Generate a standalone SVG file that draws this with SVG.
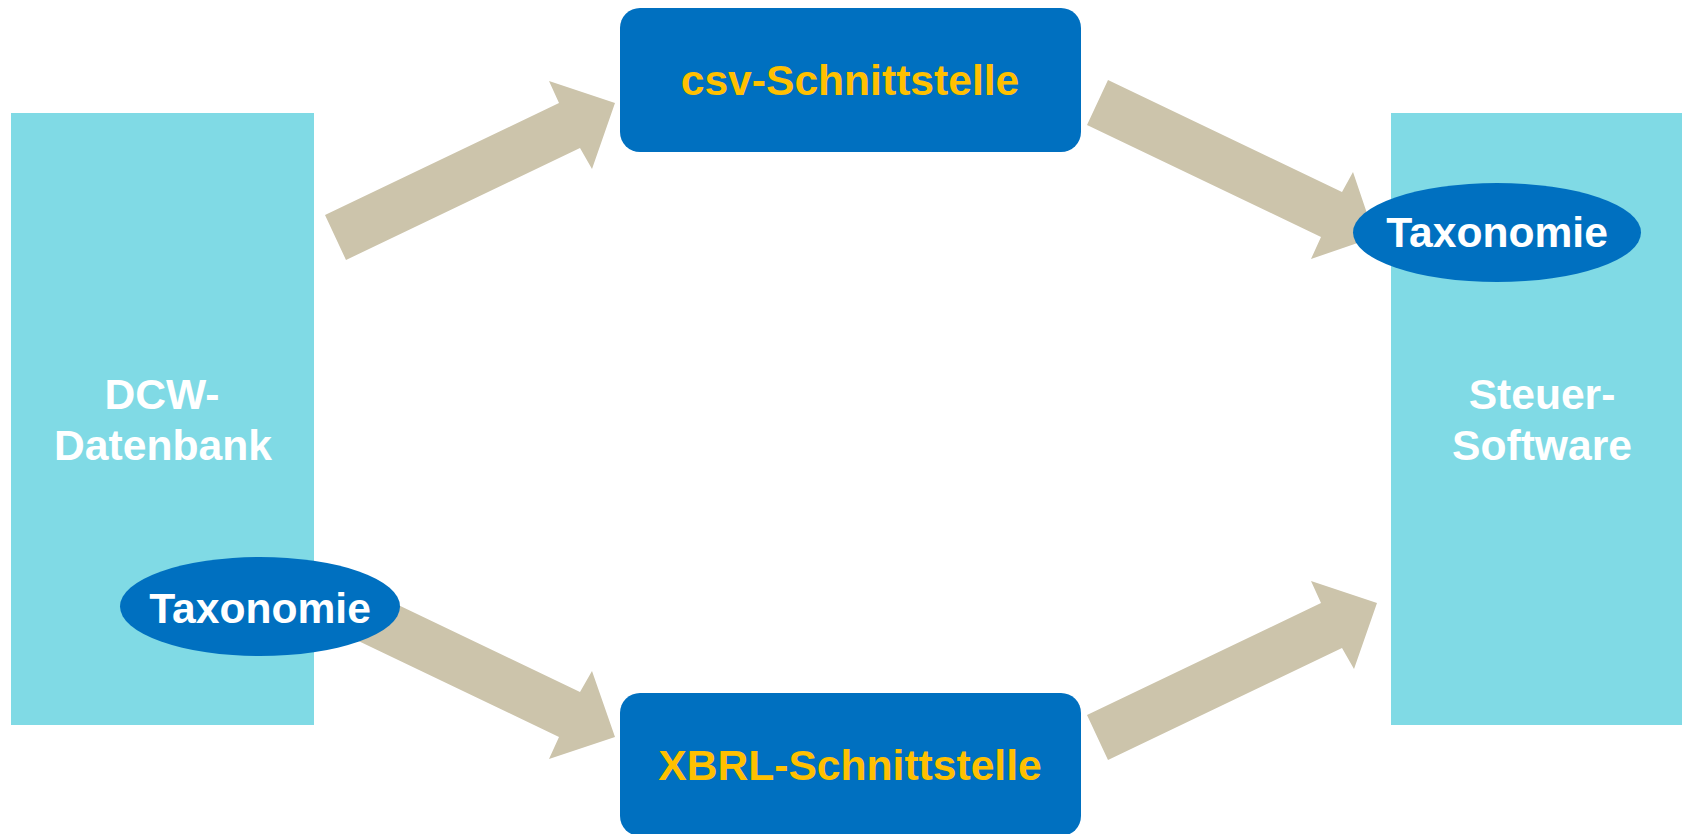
<svg xmlns="http://www.w3.org/2000/svg" width="1682" height="834" viewBox="0 0 1682 834">
<style>
.sys{fill:#80DAE5}
.iface{fill:#0070C0}
.arr{fill:#CCC4AB}
.tax{fill:#0070C0}
.t{font-family:"Liberation Sans",Arial,sans-serif;font-weight:bold;font-size:42.6px;text-anchor:middle}
.w{fill:#FFFFFF}
.y{fill:#FFC000}
</style>
<rect width="1682" height="834" fill="#FFFFFF"/>
<g id="dcw-datenbank">
<rect class="sys" x="11" y="113" width="303" height="612"/>
<text class="t w" x="162" y="409">DCW-</text>
<text class="t w" x="163" y="460">Datenbank</text>
</g>
<g id="steuer-software">
<rect class="sys" x="1391" y="113" width="291" height="612"/>
<text class="t w" x="1542" y="409">Steuer-</text>
<text class="t w" x="1542" y="460">Software</text>
</g>
<g id="csv-schnittstelle">
<rect class="iface" x="620" y="8" width="461" height="144" rx="20" ry="20"/>
<text class="t y" x="850" y="95">csv-Schnittstelle</text>
</g>
<g id="xbrl-schnittstelle">
<rect class="iface" x="620" y="693" width="461" height="143" rx="20" ry="20"/>
<text class="t y" x="850" y="780">XBRL-Schnittstelle</text>
</g>
<g id="connectors">
<polygon class="arr" points="325,215 559,103 549,81 615,103 592,169 580,148 346,260"/>
<polygon class="arr" points="325,625 559,737 549,759 615,737 592,671 580,692 346,580"/>
<polygon class="arr" points="1087,125 1321,237 1311,259 1375,237 1353,172 1342,192 1108,80"/>
<polygon class="arr" points="1087,715 1321,603 1311,581 1377,603 1354,669 1342,648 1108,760"/>
</g>
<g id="taxonomie-dcw">
<ellipse class="tax" cx="260" cy="606.5" rx="140" ry="49.5"/>
<text class="t w" x="260" y="623">Taxonomie</text>
</g>
<g id="taxonomie-steuer">
<ellipse class="tax" cx="1497" cy="232.5" rx="144" ry="49.5"/>
<text class="t w" x="1497" y="247">Taxonomie</text>
</g>
</svg>
